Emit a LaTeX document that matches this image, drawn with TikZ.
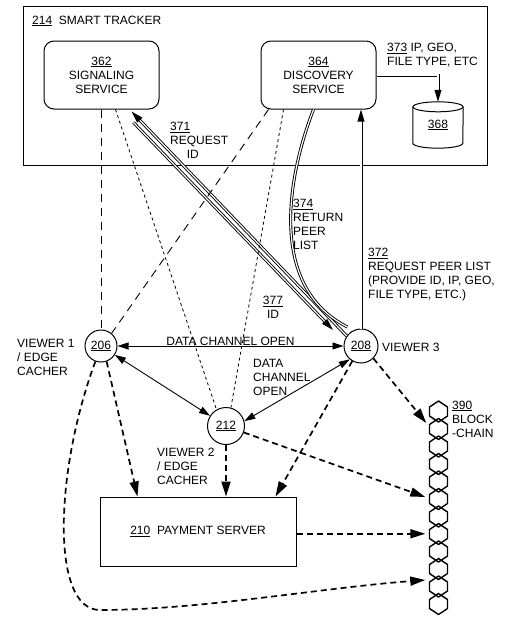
\documentclass[tikz,border=0pt]{standalone}
\usepackage{fontspec}
\setmainfont{Liberation Sans}
\usetikzlibrary{arrows.meta,decorations.markings}
\tikzset{%
	frame/.style    = {draw, line width = 1pt, minimum width = 464pt, minimum height = 159pt},
	svc/.style      = {draw, line width = 1pt, rounded corners = 10pt, align = center, minimum width = 115pt, minimum height = 68pt},
	server/.style   = {draw, line width = 1pt, minimum width = 196pt, minimum height = 69pt},
	store/.style    = {minimum width = 50pt, minimum height = 36pt, inner sep = 0pt},
	viewer/.style   = {draw, line width = 1pt, circle, inner sep = 0pt},
	lbl/.style      = {anchor = west, align = left, inner sep = 0pt},
	dbl/.style      = {double, double distance = 1.2pt, line width = 0.9pt},
	dblarr/.style   = {dbl, shorten >= 7pt, postaction = {decorate, decoration = {markings,
	                   mark = at position 1 with {\fill (-12pt, 3.6pt) -- (0pt, 0pt) -- (-12pt, -3.6pt) -- cycle;}}}},
	ctrl/.style     = {dash pattern = on 8pt off 6pt, line width = 0.9pt}, % long dashes
	sigl/.style     = {dash pattern = on 3pt off 3pt, line width = 0.8pt}, % short dashes
	link/.style     = {<->, line width = 0.9pt},
	pay/.style      = {-{Triangle[length = 15pt, width = 9pt]}, line width = 1.7pt, dash pattern = on 6pt off 4pt},
	hex/.style      = {line width = 1.4pt, line join = round}
}

\begin{document}
\begin{tikzpicture}[x = 1pt, y = -1pt, >={Triangle[length = 11pt, width = 7pt]}, font = \fontsize{12}{14}\selectfont]
	\useasboundingbox (0, 0) rectangle (523, 629);
	\draw % Drawing the tracker
	node at (255, 85.5) [frame] (tracker) {}
	node at (32, 21) [lbl] (trackerlbl) {\underline{214}\ \ SMART TRACKER}
	node at (101.5, 75) [svc] (sig) {\underline{362}\\SIGNALING\\SERVICE}
	node at (318.5, 75) [svc] (disc) {\underline{364}\\DISCOVERY\\SERVICE}
	node at (438, 125) [store] (db) {\underline{368}}
	node at (387, 55) [lbl] (dblbl) {\underline{373} IP, GEO,\\FILE TYPE, ETC}
	;
	% the store drum
	\draw[line width = 1pt] (db.north west) -- (db.south west) arc[start angle = 180, end angle = 360, x radius = 25pt, y radius = 5pt] -- (db.north east);
	\draw[line width = 1pt] (db.north) ellipse [x radius = 25pt, y radius = 5pt];
	\coordinate (dbtop) at ([yshift = 5pt]db.north);

	\draw % Drawing the viewers, the server and the chain
	node at (101, 346) [viewer, minimum size = 32pt] (v1) {\underline{206}}
	node at (361, 346) [viewer, minimum size = 34pt] (v3) {\underline{208}}
	node at (226, 426) [viewer, minimum size = 37pt] (v2) {\underline{212}}
	node at (17, 357) [lbl] (v1lbl) {VIEWER 1\\/ EDGE\\CACHER}
	node at (382, 347) [lbl] (v3lbl) {VIEWER 3}
	node at (157, 466) [lbl] (v2lbl) {VIEWER 2\\/ EDGE\\CACHER}
	node at (198, 531.5) [server] (pay) {\underline{210}\ \ PAYMENT SERVER}
	node at (438.5, 507.75) [minimum width = 18pt, minimum height = 213.5pt, inner sep = 0pt] (chain) {}
	node at (452, 419) [lbl] (chainlbl) {\underline{390}\\BLOCK\\-CHAIN}
	;
	\foreach \i in {0,...,11}
		\draw[hex] (438.5, 401 + 17.5*\i) -- ++(9, 6) -- ++(0, 9) -- ++(-9, 6) -- ++(-9, -6) -- ++(0, -9) -- cycle;

	\coordinate (idtop) at ([xshift = 32pt, yshift = -13pt]sig.south);
	\coordinate (idend) at (333, 330);
	\coordinate (ch1) at ([xshift = -3pt, yshift = 84.75pt]chain.west);
	\coordinate (ch2) at ([xshift = -4pt, yshift = 10.75pt]chain.west);
	\coordinate (ch3) at ([xshift = -4pt, yshift = -26pt]chain.west);
	\coordinate (ch4) at ([xshift = -4pt, yshift = -72.25pt]chain.west);

	% Drawing the messages to the tracker
	\draw[dblarr] (v3.145) -- ([xshift = 30pt, yshift = -2pt]sig.south);
	\draw[dblarr] (idtop) -- (idend);
	\draw[dblarr] ([xshift = -5pt]disc.south) .. controls (290, 170) and (265, 285) .. (v3.115);
	\draw[dblarr] (v3.north) -- (v3.north |- disc.south);
	\draw[dblarr] (disc.east) -| (dbtop);
	\draw node at (170, 140.5) [lbl] {\underline{371}\\REQUEST\\\hphantom{RE}ID}
	node at (273, 307) [align = center, inner sep = 0pt] {\underline{377}\\ID}
	node at (293, 224.5) [lbl] {\underline{374}\\RETURN\\PEER\\LIST}
	node at (368, 275) [lbl] {\underline{372}\\REQUEST PEER LIST\\(PROVIDE ID, IP, GEO,\\FILE TYPE, ETC.)};

	% Drawing the control lines
	\draw[ctrl] (sig.south -| v1) -- (v1.north);
	\draw[ctrl] ([xshift = 8pt]disc.south west) -- (v1.50);
	\draw[sigl] ([xshift = 14pt]sig.south) -- (v2.120);
	\draw[sigl] ([xshift = -35pt]disc.south) -- (v2.75);

	% Drawing the data channels
	\draw[link] (v1) -- node[above, inner sep = 0pt] {DATA CHANNEL OPEN} (v3);
	\draw[link] (v1) -- (v2);
	\draw[link] (v2.15) -- (v3.230);
	\draw node at (253, 377) [lbl] {DATA\\CHANNEL\\OPEN};

	% Drawing the payments
	\draw[pay] (v1.-70) -- ([xshift = 38pt]pay.north west);
	\draw[pay] (v2) -- (v2 |- pay.north);
	\draw[pay] (v3.-120) -- ([xshift = -21pt]pay.north east);
	\draw[pay] (v3.-45) -- (ch1);
	\draw[pay] (v2.-20) -- (ch2);
	\draw[pay] (pay.east |- ch3) -- (ch3);
	\draw[pay] (v1.-110) .. controls (55, 470) and (50, 610) .. (100, 610) .. controls (200, 610) and (320, 588) .. (ch4);
\end{tikzpicture}
\end{document}
